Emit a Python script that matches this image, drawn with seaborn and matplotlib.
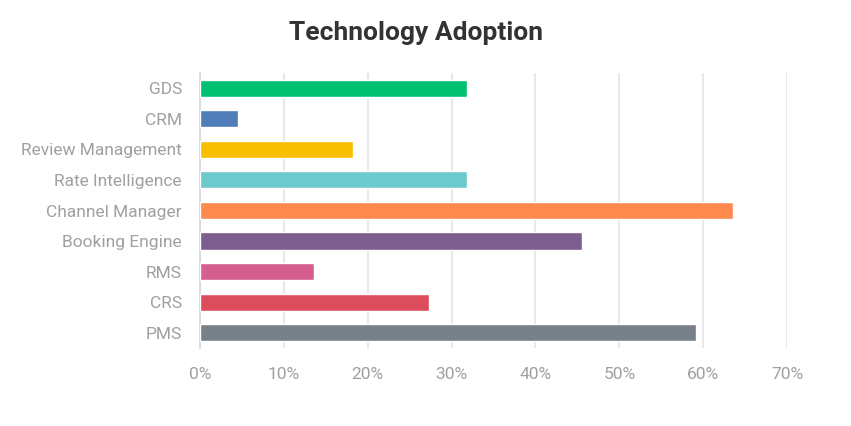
import numpy as np
import pandas as pd
import seaborn as sns
import matplotlib.pyplot as plt
from matplotlib.ticker import PercentFormatter

# values (percent)
categories = ["GDS", "CRM", "Review Management", "Rate Intelligence", "Channel Manager",
              "Booking Engine", "RMS", "CRS", "PMS"]
adoption = [31.8, 4.5, 18.2, 31.8, 63.6, 45.5, 13.6, 27.3, 59.1]
colors = ["#00C072", "#4E7DB8", "#F8BE00", "#6CC9CC", "#FF8A50",
          "#7D5E8F", "#D45E8E", "#DC4E5E", "#78808A"]
x_ticks = [0, 10, 20, 30, 40, 50, 60, 70]

df = pd.DataFrame({"tech": categories, "pct": adoption})

sns.set_theme(style="white")
plt.rcParams['font.family'] = ['Roboto', 'DejaVu Sans']

fig = plt.figure(figsize=(8.51, 4.26), dpi=100)
ax = fig.add_axes([200 / 851, 1 - 348 / 426, 587 / 851, 275 / 426])

sns.barplot(data=df, x="pct", y="tech", hue="tech", palette=colors, legend=False,
            orient="h", width=0.56, saturation=1, ax=ax, zorder=3)

ax.set_xlim(0, 70)
ax.set_ylim(8.5, -0.5)
ax.set_xticks(x_ticks)
ax.xaxis.set_major_formatter(PercentFormatter(decimals=0))
ax.grid(axis="x", color="#e8e8e8", linewidth=1.5, zorder=0)
ax.set_axisbelow(True)
for s in ["top", "right", "bottom"]:
    ax.spines[s].set_visible(False)
ax.spines["left"].set_color("#d8d8d8")
ax.spines["left"].set_linewidth(1.2)
ax.tick_params(axis="both", length=0, colors="#a0a0a0", labelsize=12.5)
ax.tick_params(axis="y", pad=13)
ax.tick_params(axis="x", pad=14)
ax.set_xlabel("")
ax.set_ylabel("")

fig.text(416 / 851, 1 - 33 / 426, "Technology Adoption", ha="center", va="center",
         fontsize=19, fontweight="bold", color="#333333")

fig.savefig("out.png", dpi=100, facecolor="white")
